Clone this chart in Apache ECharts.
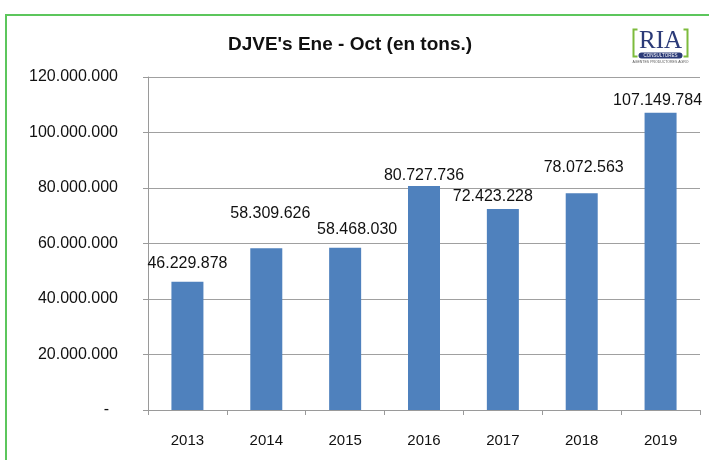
<!DOCTYPE html>
<html>
<head>
<meta charset="utf-8">
<script src="https://cdn.jsdelivr.net/npm/echarts@6/dist/echarts.min.js"></script>
<style>
html,body{margin:0;padding:0;background:#fff;}
#chart{width:709px;height:460px;}
</style>
</head>
<body>
<div id="chart"></div>
<script>
// ---- data ----
var titleText = "DJVE's Ene - Oct (en tons.)";
var categories = ['2013', '2014', '2015', '2016', '2017', '2018', '2019'];
var values = [46229878, 58309626, 58468030, 80727736, 72423228, 78072563, 107149784];
var yTicks = [0, 20000000, 40000000, 60000000, 80000000, 100000000, 120000000];

// ---- label placement (styles, hand-tuned to mimic the reference) ----
var labelShift = [[0, -10], [4, -27], [12, -10], [0, -2], [-10, -4], [2, -18], [-3, -4]];

function fmt(v) {
  if (v === 0) return '-  ';
  var s = String(Math.round(v));
  return s.replace(/\B(?=(\d{3})+(?!\d))/g, '.');
}

var chart = echarts.init(document.getElementById('chart'), null, {renderer: 'canvas'});
var FONT = 'Liberation Sans';

var option = {
  backgroundColor: '#ffffff',
  animation: false,
  title: {
    text: titleText,
    left: 345,
    textAlign: 'center',
    top: 30,
    textStyle: {fontFamily: FONT, fontSize: 19, fontWeight: 'bold', color: '#111111'}
  },
  grid: {left: 148, right: 9, top: 77, bottom: 50, containLabel: false},
  xAxis: {
    type: 'category',
    data: categories,
    axisLine: {show: true, lineStyle: {color: '#9a9a9a', width: 1}},
    axisTick: {show: true, length: 5, alignWithLabel: false, lineStyle: {color: '#9a9a9a'}},
    axisLabel: {fontFamily: FONT, fontSize: 15, color: '#111111', margin: 23}
  },
  yAxis: {
    type: 'value',
    min: yTicks[0],
    max: yTicks[yTicks.length - 1],
    interval: yTicks[1] - yTicks[0],
    axisLine: {show: true, lineStyle: {color: '#9a9a9a', width: 1}},
    axisTick: {show: true, length: 5, lineStyle: {color: '#9a9a9a'}},
    splitLine: {show: true, lineStyle: {color: '#a0a0a0', width: 1}},
    axisLabel: {fontFamily: FONT, fontSize: 16, color: '#111111', margin: 30, formatter: fmt}
  },
  series: [{
    type: 'bar',
    barWidth: 32,
    itemStyle: {color: '#4f81bd'},
    data: values.map(function (v, i) {
      return {
        value: v,
        label: {offset: labelShift[i]}
      };
    }),
    label: {
      show: true,
      position: 'top',
      distance: 0,
      fontFamily: FONT,
      fontSize: 16,
      color: '#111111',
      formatter: function (p) { return fmt(p.value); }
    }
  }],
  graphic: [
    {type: 'rect', shape: {x: 6, y: 15, width: 800, height: 600},
     style: {fill: 'none', stroke: '#5cc65c', lineWidth: 2}, silent: true, z: 100},
    // RIA logo
    {type: 'group', left: 631, top: 27, children: [
      {type: 'polyline', shape: {points: [[6, 1], [2, 1], [2, 28], [6, 28]]},
       style: {stroke: '#7dbb3c', lineWidth: 2, fill: 'none'}},
      {type: 'polyline', shape: {points: [[52, 1], [56, 1], [56, 28], [52, 28]]},
       style: {stroke: '#7dbb3c', lineWidth: 2, fill: 'none'}},
      {type: 'text', x: 29, y: 0, style: {text: 'RIA', fontFamily: 'Liberation Serif',
        fontSize: 25, fill: '#2b3a78', align: 'center'}},
      {type: 'rect', shape: {x: 7, y: 24, width: 44, height: 6, r: 3}, style: {fill: '#2b3a78'}},
      {type: 'text', x: 29, y: 24.5, style: {text: 'CONSULTORES', fontFamily: FONT,
        fontSize: 4.5, fill: '#ffffff', align: 'center'}},
      {type: 'text', x: 29, y: 32, style: {text: 'AGENTES PRODUCTORES AGRO', fontFamily: FONT,
        fontSize: 3.5, fill: '#555555', align: 'center'}}
    ]}
  ]
};
chart.setOption(option);
</script>
</body>
</html>
